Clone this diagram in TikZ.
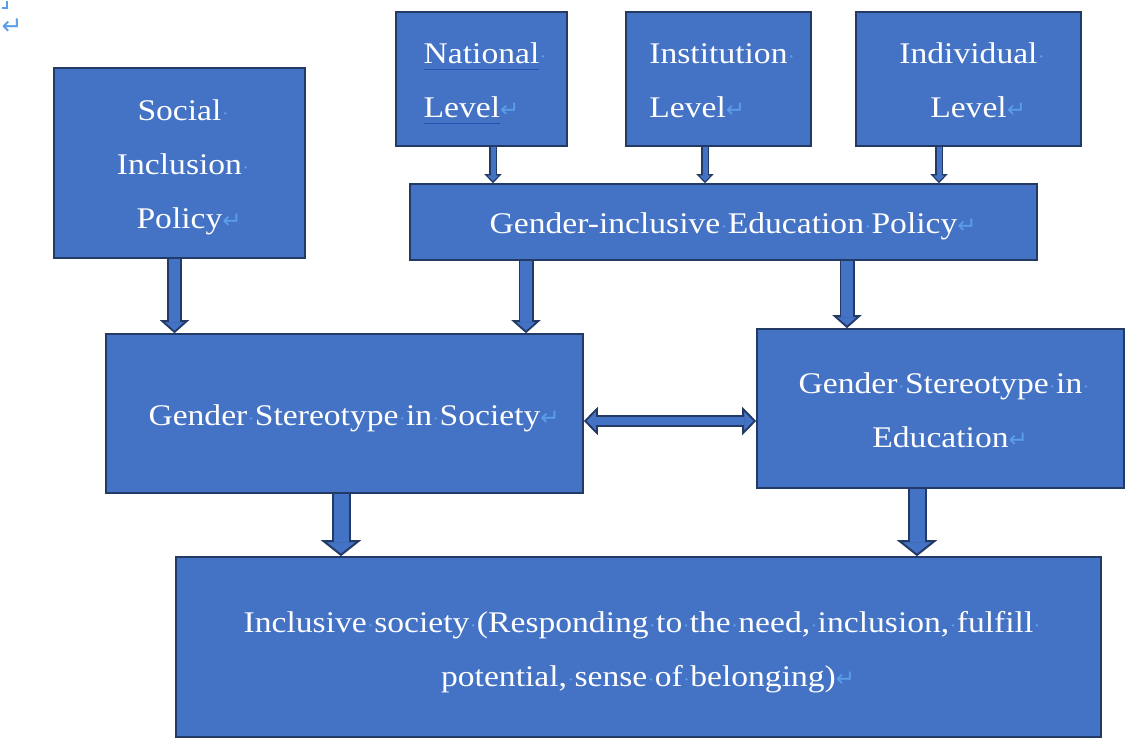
\documentclass[tikz,border=0pt]{standalone}
\usepackage{fontspec}
\setmainfont{Liberation Serif}[FakeStretch=1.12]
\newfontfamily\markfont{DejaVu Sans}
\usetikzlibrary{arrows.meta, positioning, backgrounds}

\definecolor{boxblue}{RGB}{68, 114, 196}
\definecolor{boxline}{RGB}{35, 58, 100}
\definecolor{markblue}{RGB}{90, 158, 232}
\definecolor{ulblue}{RGB}{40, 80, 175}

\newcommand{\boxfont}{\fontsize{30}{54}\selectfont}
% paragraph and space marks
\newcommand{\pmark}{\rlap{\markfont\fontsize{23}{23}\selectfont\color{markblue}↵}}
\newcommand{\wsp}{\hbox to 0.25em{\hss{\fontsize{20}{20}\selectfont\color{markblue}·}\hss}}
\newcommand{\ulword}[1]{\setbox0\hbox{#1}\rlap{\color{ulblue}\rule[-6pt]{\wd0}{1.4pt}}\box0}
% fixed top/bottom struts so every box sets its lines alike
\newcommand{\tstrut}{\rule{0pt}{31pt}}
\newcommand{\bstrut}{\rule[-7pt]{0pt}{0pt}}
% block arrow = dark outline pass + blue fill pass
\newcommand{\barrow}[3]{\draw[#1arrow] (#2) -- (#3); \draw[#1fill] (#2) -- (#3);}

\tikzset{
  box/.style={rectangle, draw=boxline, fill=boxblue, line width=1.6pt,
              text=white, align=center, inner sep=0pt, font=\boxfont},
  thinarrow/.style={draw=boxline, line width=8pt,
              -{Triangle[length=9pt, width=17pt, fill=boxblue, line width=1.2pt]}},
  thinfill/.style={draw=boxblue, line width=5pt, shorten >=7.5pt},
  midarrow/.style={draw=boxline, line width=15pt,
              -{Triangle[length=13pt, width=29pt, fill=boxblue, line width=1.8pt]}},
  midfill/.style={draw=boxblue, line width=11.5pt, shorten >=11pt},
  fatarrow/.style={draw=boxline, line width=19pt,
              -{Triangle[length=16pt, width=40pt, fill=boxblue, line width=2pt]}},
  fatfill/.style={draw=boxblue, line width=15pt, shorten >=14pt},
  bothwayarrow/.style={draw=boxline, line width=12pt,
              {Triangle[length=14pt, width=28pt, fill=boxblue, line width=1.8pt]}-{Triangle[length=14pt, width=28pt, fill=boxblue, line width=1.8pt]}},
  bothwayfill/.style={draw=boxblue, line width=8.5pt, shorten >=12pt, shorten <=12pt},
}

\begin{document}
\begin{tikzpicture}[x=1pt, y=-1pt]
  \useasboundingbox (0,0) rectangle (1125,738);

  % editor marks in the corner
  \draw[markblue, line width=1.2pt] (2,8) -- (7,8) -- (7,1);
  \node[font=\markfont\fontsize{25}{25}\selectfont, text=markblue, inner sep=0pt] (retmark) at (12,27) {↵};

  % policy levels
  \node[box, minimum width=251pt, minimum height=190pt] (social) at (179.5,163)
    {\tstrut Social\rlap{\wsp}\\Inclusion\rlap{\wsp}\\Policy\pmark\bstrut};
  \node[box, align=left, minimum width=171pt, minimum height=134pt] (national) at (481.5,79)
    {\tstrut\ulword{National}\rlap{\wsp}\\\ulword{Level}\pmark\bstrut};
  \node[box, align=left, minimum width=185pt, minimum height=134pt] (institution) at (718.5,79)
    {\tstrut Institution\rlap{\wsp}\\Level\pmark\bstrut};
  \node[box, minimum width=225pt, minimum height=134pt] (individual) at (968.5,79)
    {\tstrut Individual\rlap{\wsp}\\Level\pmark\bstrut};
  \node[box, minimum width=627pt, minimum height=76pt] (giep) at (723.5,222)
    {\tstrut Gender-inclusive\wsp Education\wsp Policy\pmark\bstrut};

  % stereotypes
  \node[box, minimum width=477pt, minimum height=159pt] (gsoc) at (344.5,413.5)
    {\tstrut Gender\wsp Stereotype\wsp in\wsp Society\pmark\bstrut};
  \node[box, minimum width=367pt, minimum height=159pt] (gedu) at (940.5,408.5)
    {\tstrut Gender\wsp Stereotype\wsp in\rlap{\wsp}\\Education\pmark\bstrut};

  % outcome
  \node[box, minimum width=925pt, minimum height=180pt] (incl) at (638.5,647)
    {\tstrut Inclusive\wsp society\wsp (Responding\wsp to\wsp the\wsp need,\wsp inclusion,\wsp fulfill\rlap{\wsp}\\
     potential,\wsp sense\wsp of\wsp belonging)\pmark\bstrut};

  \begin{scope}[on background layer]
    \barrow{thin}{[xshift=11.5pt]national.south}{[xshift=11.5pt]national.south |- giep.north}
    \barrow{thin}{[xshift=-13.5pt]institution.south}{[xshift=-13.5pt]institution.south |- giep.north}
    \barrow{thin}{[xshift=-29.5pt]individual.south}{[xshift=-29.5pt]individual.south |- giep.north}
    \barrow{mid}{[xshift=-5pt]social.south}{[xshift=-5pt]social.south |- gsoc.north}
    \barrow{mid}{[xshift=-197.5pt]giep.south}{[xshift=-197.5pt]giep.south |- gsoc.north}
    \barrow{mid}{[xshift=123.5pt]giep.south}{[xshift=123.5pt]giep.south |- gedu.north}
    \barrow{fat}{[xshift=-3.5pt]gsoc.south}{[xshift=-3.5pt]gsoc.south |- incl.north}
    \barrow{fat}{[xshift=-23.5pt]gedu.south}{[xshift=-23.5pt]gedu.south |- incl.north}
    \barrow{bothway}{[yshift=-7.5pt]gsoc.east}{[yshift=-7.5pt]gsoc.east -| gedu.west}
  \end{scope}
\end{tikzpicture}
\end{document}
